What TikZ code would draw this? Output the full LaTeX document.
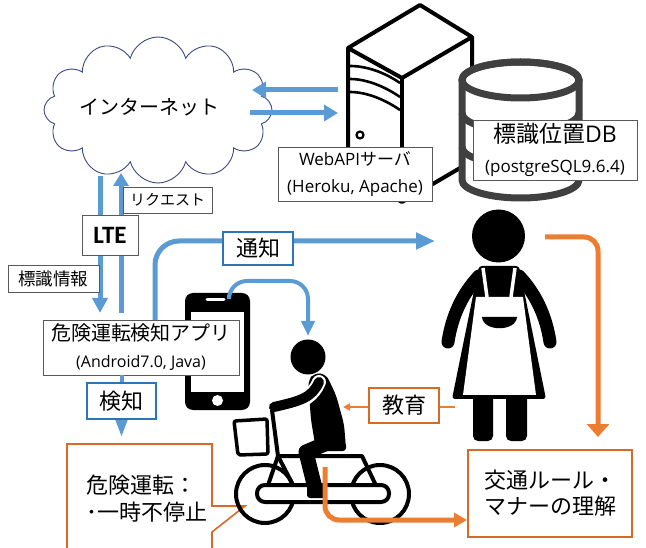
\documentclass[tikz,border=0pt]{standalone}
\usepackage{fontspec}
\setmainfont{Noto Sans CJK JP}
\newfontfamily\lat{Open Sans}
\newfontfamily\latb{Carlito}
\usetikzlibrary{arrows.meta,shapes.symbols}

\definecolor{arrowblue}{HTML}{5B9BD5}
\definecolor{edgeblue}{HTML}{2E75B6}
\definecolor{arroworange}{HTML}{ED7D31}
\definecolor{edgeorange}{HTML}{D86A28}
\definecolor{dbgray}{HTML}{404040}
\definecolor{cloudedge}{HTML}{3B4A85}
\definecolor{boxedge}{HTML}{595959}

\begin{document}
\begin{tikzpicture}[x=1pt,y=-1pt,
  graybox/.style={draw=boxedge, line width=0.9pt, fill=white, inner sep=0pt, align=center},
  bluebox/.style={draw=edgeblue, line width=1.6pt, fill=white, inner sep=0pt, align=center},
  orangebox/.style={draw=edgeorange, line width=1.6pt, fill=white, inner sep=0pt, align=center},
  bluearrow/.style={draw=arrowblue, line width=5pt, -{Triangle[length=14pt,width=16pt]}},
  orangearrow/.style={draw=arroworange, line width=5pt},
  icon/.style={line width=4pt, line join=round},
  dbline/.style={dbgray, line width=7pt},
]
\useasboundingbox (0,0) rectangle (646,548);
\clip (0,0) rectangle (646,548);
\fill[white] (0,0) rectangle (646,548);

% ---------- internet cloud ----------
\node[cloud, draw=cloudedge, line width=0.9pt, fill=white, cloud puffs=12,
      aspect=1.55, minimum width=228pt, minimum height=146pt, inner sep=0pt] (net) at (158,110) {};
\node[font=\fontsize{20}{24}\selectfont] (netlabel) at (149,107) {インターネット};

% ---------- named end points of the connectors ----------
\coordinate (srvIn)   at (338,90);
\coordinate (netIn)   at (252,90);
\coordinate (netOut)  at (250,113);
\coordinate (srvOut)  at (338,113);
\coordinate (lteDownS) at (100,176);
\coordinate (lteDownE) at (100,313);
\coordinate (lteUpS)   at (121,313);
\coordinate (lteUpE)   at (121,173);
\coordinate (mother)  at (435,241);
\coordinate (phoneTop) at (229,295);
\coordinate (riderHead) at (308,336);
\coordinate (motherR) at (545,237);
\coordinate (ruleTop) at (598,437);
\coordinate (motherL) at (455,407);
\coordinate (riderBack) at (343,407);
\coordinate (bikeRear) at (325,467);
\coordinate (ruleLeft) at (467,520);

% ---------- arrows between cloud and server ----------
\draw[bluearrow] (srvIn) -- (netIn);
\draw[bluearrow] (netOut) -- (srvOut);

% ---------- web server ----------
\draw[icon, fill=white] (348,48) -- (420,5) -- (472,37) -- (472,161) -- (402,202) -- (348,172) -- cycle;
\draw[icon] (348,48) -- (402,78) -- (472,37);
\draw[icon] (402,78) -- (402,202);
\draw[line width=2.6pt] (350,66) .. controls (366,66) and (384,72) .. (400,83);
\draw[line width=2.6pt] (350,79) .. controls (366,79) and (384,86) .. (400,97);
\draw[line width=2.6pt] (350,92) .. controls (366,92) and (384,99) .. (400,110);
\draw[line width=2.2pt] (360,135) circle[radius=3.5pt];

% ---------- database cylinder ----------
\draw[dbline, fill=white]
  (462,80) -- (462,180) arc[start angle=180, end angle=360, x radius=58.5pt, y radius=18pt]
  -- (579,80) arc[start angle=0, end angle=180, x radius=58.5pt, y radius=18pt] -- cycle;
\draw[dbline] (520.5,80) ellipse[x radius=58.5pt, y radius=18pt];
\draw[dbline] (462,113) arc[start angle=180, end angle=360, x radius=58.5pt, y radius=18pt];
\draw[dbline] (462,147) arc[start angle=180, end angle=360, x radius=58.5pt, y radius=18pt];

\node[graybox, minimum width=154pt, minimum height=54pt, font=\fontsize{17}{27}\selectfont]
  (api) at (355,174) {{\lat WebAPI}サーバ\\{\lat (Heroku, Apache)}};
\node[graybox, minimum width=164pt, minimum height=60pt, font=\fontsize{17}{30}\selectfont]
  (db) at (555,150) {{\fontsize{23}{30}\selectfont 標識位置{\lat DB}}\\{\lat (postgreSQL9.6.4)}};

% ---------- LTE link ----------
\draw[bluearrow, -{Triangle[length=15pt,width=15pt]}] (lteDownS) -- (lteDownE);
\draw[bluearrow, -{Triangle[length=13pt,width=15pt]}] (lteUpS) -- (lteUpE);
\node[graybox, minimum width=56pt, minimum height=40pt, font=\latb\bfseries\fontsize{25}{28}\selectfont]
  (lte) at (110,235) {LTE};
\node[graybox, minimum width=89pt, minimum height=26pt, font=\fontsize{15}{18}\selectfont]
  (req) at (167.5,200) {リクエスト};
\node[graybox, minimum width=91pt, minimum height=27pt, font=\fontsize{17.5}{20}\selectfont]
  (sign) at (53.5,278.5) {標識情報};

% ---------- smartphone ----------
\fill[black, rounded corners=8pt] (185,293) rectangle (250,410);
\fill[white] (191,312) rectangle (244,392);
\draw[white, line width=3pt, line cap=round] (207,300) -- (224,300);
\fill[white] (217.5,400.5) circle[radius=5.5pt];

% ---------- notification arrows ----------
\draw[bluearrow, -{Triangle[length=19pt,width=16pt]}, rounded corners=24pt]
  (155,320) -- (155,241) -- (mother);
\draw[draw=arrowblue, line width=4pt, -{Triangle[length=15pt,width=13pt]}, rounded corners=18pt]
  (phoneTop) -- (229,281) -- (308,281) -- (riderHead);
\node[bluebox, minimum width=70pt, minimum height=33pt, font=\fontsize{22}{24}\selectfont]
  (notify) at (258,248.5) {通知};

% ---------- detection app ----------
\node[graybox, minimum width=196pt, minimum height=55pt, font=\fontsize{16}{27}\selectfont]
  (app) at (141,347.5) {{\fontsize{20}{27}\selectfont 危険運転検知アプリ}\\{\lat (Android7.0, Java)}};
\draw[draw=arrowblue, line width=4pt, -{Triangle[length=17pt,width=11pt]}]
  (app.south -| 121.5,0) -- (121.5,437);
\node[bluebox, minimum width=69pt, minimum height=36pt, font=\fontsize{22}{24}\selectfont]
  (detect) at (121.5,401) {検知};

% ---------- dangerous-driving callout ----------
\draw[edgeorange, line width=1.6pt, fill=white, line join=miter]
  (67,560) -- (67,444) -- (212,444) -- (212,506) -- (245,506) -- (212,532) -- (212,560);
\node[anchor=west, align=left, inner sep=0pt, font=\fontsize{22}{27}\selectfont]
  (danger) at (86,498.5) {危険運転：\\･一時不停止};

% ---------- cyclist ----------
\begin{scope}[line width=4pt, line join=round]
  \draw (265,494) circle[radius=29pt];
  \draw (380,494) circle[radius=29pt];
  \draw (272,410) -- (278,456) -- (362,456) -- (380,494);
  \draw (278,456) -- (265,494);
  \draw (278,456) -- (294,487);
  \draw[line width=3.5pt, fill=white, rounded corners=2pt]
    (234,421) -- (267,419) -- (268,454) -- (238,455) -- cycle;
  \draw[fill=white, rounded corners=8pt] (257,485) rectangle (389,502);
\end{scope}
\fill[rounded corners=6pt] (308,381) -- (314,373) -- (326,374) -- (336,395) -- (344,424)
  -- (346,448) -- (316,450) -- (311,420) -- cycle;
\fill[rounded corners=3pt] (318,442) rectangle (346,451);
\draw[line width=15pt, line cap=round, line join=round] (332,441) -- (306,452) -- (315,488);
\fill[rounded corners=3pt] (307,486) rectangle (326,498);
\draw[white, line width=14pt, line cap=round] (319,382) .. controls (316,389) and (312,394) .. (306,398);
\draw[line width=10pt, line cap=round] (319,382) .. controls (312,398) and (300,401) .. (274,407);
\fill (308,357) circle[radius=17.5pt];

% ---------- mother ----------
\fill (498.5,236) circle[radius=26.5pt];
\fill[rounded corners=3pt] (479,266) -- (519,266) -- (546,399) -- (452,399) -- cycle;
\draw[line width=13pt, line cap=round] (479,276) .. controls (463,293) and (452,315) .. (448,342);
\draw[line width=13pt, line cap=round] (519,276) .. controls (535,293) and (546,315) .. (550,342);
\fill[rounded corners=5pt] (473,392) rectangle (493,441);
\fill[rounded corners=5pt] (506,392) rectangle (527,441);
\draw[white, line width=3.5pt] (483,268) -- (487,297);
\draw[white, line width=3.5pt] (515,268) -- (511,297);
\fill[white] (476,297) -- (523,297) -- (536,395) -- (463,395) -- cycle;
\fill (482,317) -- (517,317) .. controls (516,332) and (483,332) .. (482,317) -- cycle;

% ---------- education and understanding ----------
\draw[draw=arroworange, line width=2.5pt, -{Triangle[length=7pt,width=7pt]}] (motherL) -- (riderBack);
\node[orangebox, minimum width=70pt, minimum height=35pt, font=\fontsize{22}{24}\selectfont]
  (edu) at (404,405.5) {教育};
\draw[orangearrow, -{Triangle[length=13pt,width=22pt]}, rounded corners=14pt]
  (motherR) -- (598,237) -- (ruleTop);
\draw[orangearrow, -{Triangle[length=13pt,width=14pt]}, rounded corners=14pt]
  (bikeRear) -- (325,520) -- (ruleLeft);
\node[orangebox, minimum width=164pt, minimum height=87pt, font=\fontsize{22}{26}\selectfont]
  (rule) at (550,493.5) {交通ルール・\\マナーの理解};
\end{tikzpicture}
\end{document}
